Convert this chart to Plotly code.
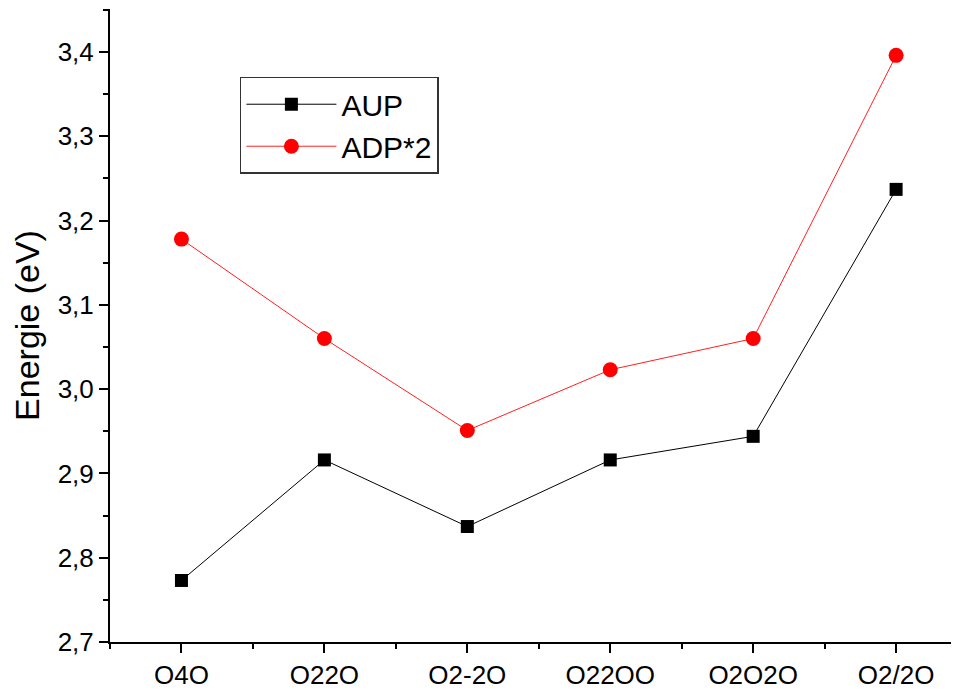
import plotly.graph_objects as go

categories = ["O4O", "O22O", "O2-2O", "O22OO", "O2O2O", "O2/2O"]
aup = [2.773, 2.916, 2.837, 2.916, 2.944, 3.237]
adp2 = [3.178, 3.060, 2.951, 3.023, 3.060, 3.396]
y_ticks = [2.7, 2.8, 2.9, 3.0, 3.1, 3.2, 3.3, 3.4]

xi = list(range(len(categories)))

fig = go.Figure()
fig.add_trace(go.Scatter(x=xi, y=aup, name="AUP", mode="lines+markers",
                         line=dict(color="black", width=1),
                         marker=dict(symbol="square", size=13, color="black")))
fig.add_trace(go.Scatter(x=xi, y=adp2, name="ADP*2", mode="lines+markers",
                         line=dict(color="#ff2020", width=1),
                         marker=dict(symbol="circle", size=15, color="#ff0000")))

fig.update_layout(
    width=951, height=683,
    margin=dict(l=102, r=0, t=1, b=49, autoexpand=False),
    plot_bgcolor="white", paper_bgcolor="white",
    separators=",.",
    font=dict(family="Liberation Sans, Arial, sans-serif", color="black"),
    showlegend=True,
    legend=dict(x=0.153, y=0.893, xanchor="left", yanchor="top",
                bordercolor="#333", borderwidth=1.5, bgcolor="white",
                font=dict(size=30), itemwidth=90, tracegroupgap=0),
    xaxis=dict(range=[-0.5, 5.44], tickvals=xi, ticktext=categories,
               automargin=False,
               showgrid=False, zeroline=False, showline=True, linecolor="black",
               linewidth=2, ticks="outside", ticklen=9, tickwidth=2,
               tickcolor="black", tickfont=dict(size=26),
               minor=dict(tickvals=[-0.5, 0.5, 1.5, 2.5, 3.5, 4.5], ticks="outside",
                          ticklen=5, tickwidth=2, tickcolor="black")),
    yaxis=dict(range=[2.7, 3.451], tickvals=y_ticks, tickformat=".1f",
               automargin=False,
               showgrid=False, zeroline=False, showline=True, linecolor="black",
               linewidth=2, ticks="outside", ticklen=9, tickwidth=2,
               tickcolor="black", tickfont=dict(size=26),
               title=dict(text="Energie (eV)", font=dict(size=34), standoff=14),
               minor=dict(tickvals=[2.75, 2.85, 2.95, 3.05, 3.15, 3.25, 3.35, 3.45],
                          ticks="outside", ticklen=5, tickwidth=2, tickcolor="black")),
)

fig.write_html("out.html")
